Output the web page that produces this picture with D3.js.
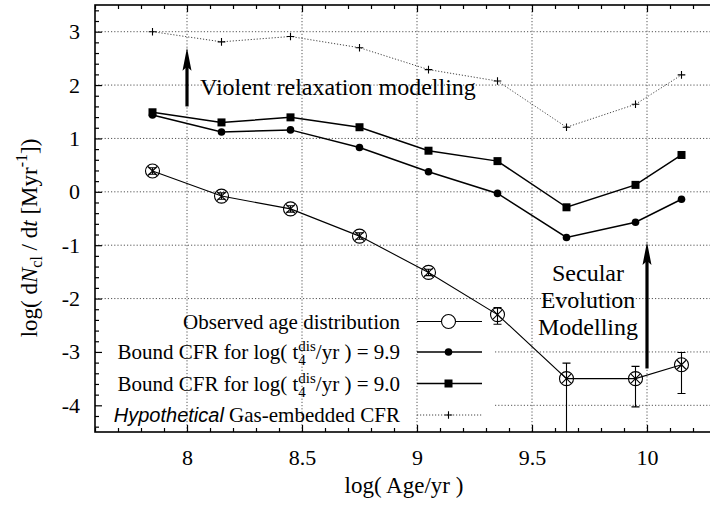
<!DOCTYPE html>
<html>
<head>
<meta charset="utf-8">
<script src="https://cdn.jsdelivr.net/npm/d3@7"></script>
<style>
  html, body { margin: 0; padding: 0; background: #fff; }
  svg { display: block; }
  text { font-family: "Liberation Serif", "Times New Roman", serif; fill: #000; }
</style>
</head>
<body>
<svg id="chart" width="710" height="508"></svg>
<script>
// ---- data ----
const ages = [7.85, 8.15, 8.45, 8.75, 9.05, 9.35, 9.65, 9.95, 10.15];
const observed = [0.39, -0.08, -0.32, -0.83, -1.51, -2.30, -3.50, -3.50, -3.24];
const observedErrHigh = [0.45, -0.02, -0.26, -0.77, -1.45, -2.17, -3.21, -3.27, -3.01];
const observedErrLow = [0.33, -0.14, -0.38, -0.89, -1.57, -2.48, -5.0, -4.03, -3.78];
const bound99 = [1.44, 1.12, 1.16, 0.83, 0.375, -0.03, -0.855, -0.57, -0.14];
const bound90 = [1.49, 1.30, 1.395, 1.21, 0.77, 0.575, -0.29, 0.13, 0.69];
const gasEmbedded = [3.0, 2.81, 2.91, 2.70, 2.29, 2.075, 1.21, 1.64, 2.19];
const xTicks = [8, 8.5, 9, 9.5, 10];
const yTicks = [-4, -3, -2, -1, 0, 1, 2, 3];

const svg = d3.select("#chart");
const L = 95, T = 5, B = 432, R = 739;
const x = d3.scaleLinear().domain([7.6, 10.4]).range([L, R]);
const y = d3.scaleLinear().domain([-4.5, 3.5]).range([B, T]);

const defs = svg.append("defs");
defs.append("clipPath").attr("id", "plotclip")
  .append("rect").attr("x", L).attr("y", T).attr("width", R - L).attr("height", B - T);

const gridStyle = g => g.attr("stroke", "#555").attr("stroke-width", 1).attr("stroke-dasharray", "1.2,2");

// horizontal grid
svg.append("g").selectAll("line").data(yTicks).join("line")
  .attr("x1", L).attr("x2", R).attr("y1", d => y(d)).attr("y2", d => y(d))
  .call(gridStyle);

// legend background (opaque key)
const keyBox = {x0: 96, x1: 493, y0: 306, y1: 431};
svg.append("rect").attr("x", keyBox.x0).attr("y", keyBox.y0)
  .attr("width", keyBox.x1 - keyBox.x0).attr("height", keyBox.y1 - keyBox.y0)
  .attr("fill", "#fff");

// vertical grid
svg.append("g").selectAll("line").data(xTicks).join("line")
  .attr("x1", d => x(d)).attr("x2", d => x(d)).attr("y1", T).attr("y2", B)
  .call(gridStyle);

// axes with inward ticks
const minorX = d3.range(76, 105).map(v => v / 10).filter(v => !xTicks.some(t => Math.abs(t - v) < 1e-6));
const minorY = d3.range(-22, 18).map(v => v / 5).filter(v => !yTicks.some(t => Math.abs(t - v) < 1e-6) && v >= -4.5 && v <= 3.5);

const axStyle = g => { g.select(".domain").remove(); g.selectAll("line").attr("stroke", "#000").attr("stroke-width", 1.2); };

const bx = svg.append("g").attr("transform", `translate(0,${B})`)
  .call(d3.axisBottom(x).tickValues(xTicks).tickSize(-7).tickPadding(0).tickFormat(d3.format("")))
  .call(axStyle);
bx.selectAll("text").attr("y", 33).attr("dy", null).attr("font-size", 22)
  .attr("font-family", "Liberation Serif, Times New Roman, serif");
svg.append("g").attr("transform", `translate(0,${B})`)
  .call(d3.axisBottom(x).tickValues(minorX).tickSize(-4).tickFormat(""))
  .call(axStyle);
svg.append("g").attr("transform", `translate(0,${T})`)
  .call(d3.axisTop(x).tickValues(xTicks).tickSize(-7).tickFormat(""))
  .call(axStyle);
svg.append("g").attr("transform", `translate(0,${T})`)
  .call(d3.axisTop(x).tickValues(minorX).tickSize(-4).tickFormat(""))
  .call(axStyle);

const ly = svg.append("g").attr("transform", `translate(${L},0)`)
  .call(d3.axisLeft(y).tickValues(yTicks).tickSize(-7).tickPadding(15).tickFormat(d3.format("")))
  .call(axStyle);
ly.selectAll("text").attr("font-size", 22).attr("dy", "0.32em")
  .attr("font-family", "Liberation Serif, Times New Roman, serif")
  .text(d => d < 0 ? "-" + Math.abs(d) : d);
svg.append("g").attr("transform", `translate(${L},0)`)
  .call(d3.axisLeft(y).tickValues(minorY).tickSize(-4).tickFormat(""))
  .call(axStyle);
svg.append("g").attr("transform", `translate(${R},0)`)
  .call(d3.axisRight(y).tickValues(yTicks).tickSize(-7).tickFormat(""))
  .call(axStyle);

// frame
svg.append("rect").attr("x", L).attr("y", T).attr("width", R - L).attr("height", B - T)
  .attr("fill", "none").attr("stroke", "#000").attr("stroke-width", 1.6);

// ---- data ----
const plot = svg.append("g").attr("clip-path", "url(#plotclip)");
const line = d3.line().x((d, i) => x(ages[i])).y(d => y(d));

// gas-embedded (dotted)
plot.append("path").datum(gasEmbedded).attr("d", line)
  .attr("fill", "none").attr("stroke", "#444").attr("stroke-width", 1).attr("stroke-dasharray", "1.2,1.8");
const plus = (g, cx, cy, s) => {
  g.append("path").attr("d", `M${cx - s},${cy}H${cx + s}M${cx},${cy - s}V${cy + s}`)
    .attr("stroke", "#000").attr("stroke-width", 1.1);
};
gasEmbedded.forEach((v, i) => plus(plot, x(ages[i]), y(v), 3.8));

// bound 9.0 squares
plot.append("path").datum(bound90).attr("d", line)
  .attr("fill", "none").attr("stroke", "#000").attr("stroke-width", 1.5);
plot.selectAll(".sq").data(bound90).join("rect")
  .attr("x", (d, i) => x(ages[i]) - 4).attr("y", d => y(d) - 4)
  .attr("width", 8).attr("height", 8).attr("fill", "#000");

// bound 9.9 circles
plot.append("path").datum(bound99).attr("d", line)
  .attr("fill", "none").attr("stroke", "#000").attr("stroke-width", 1.5);
plot.selectAll(".dot").data(bound99).join("circle")
  .attr("cx", (d, i) => x(ages[i])).attr("cy", d => y(d)).attr("r", 3.8).attr("fill", "#000");

// observed
plot.append("path").datum(observed).attr("d", line)
  .attr("fill", "none").attr("stroke", "#000").attr("stroke-width", 1.1);
observed.forEach((v, i) => {
  const cx = x(ages[i]), cy = y(v), hi = y(observedErrHigh[i]), lo = y(observedErrLow[i]);
  plot.append("path").attr("d", `M${cx},${hi}V${lo}M${cx - 4},${hi}H${cx + 4}M${cx - 4},${lo}H${cx + 4}`)
    .attr("stroke", "#000").attr("stroke-width", 1.1).attr("fill", "none");
  plot.append("circle").attr("cx", cx).attr("cy", cy).attr("r", 7)
    .attr("fill", "none").attr("stroke", "#000").attr("stroke-width", 1.1);
  plot.append("path").attr("d", `M${cx - 4.5},${cy - 4.5}L${cx + 4.5},${cy + 4.5}M${cx - 4.5},${cy + 4.5}L${cx + 4.5},${cy - 4.5}`)
    .attr("stroke", "#000").attr("stroke-width", 1.1);
});

// ---- annotations ----
const arrow = (xv, yTail, yTip) => {
  const ax = x(xv), t0 = y(yTail), t1 = y(yTip);
  svg.append("line").attr("x1", ax).attr("x2", ax).attr("y1", t0).attr("y2", t1 + 18)
    .attr("stroke", "#000").attr("stroke-width", 3.2);
  svg.append("path").attr("d", `M${ax},${t1}L${ax - 4.5},${t1 + 23}L${ax},${t1 + 19}L${ax + 4.5},${t1 + 23}Z`)
    .attr("fill", "#000");
};
arrow(8.0, 1.6, 2.7);
arrow(10.0, -3.31, -0.94);

svg.append("text").attr("x", 200).attr("y", 95).attr("font-size", 24).text("Violent relaxation modelling");
const sec = svg.append("text").attr("font-size", 24).attr("text-anchor", "middle");
["Secular", "Evolution", "Modelling"].forEach((s, i) =>
  sec.append("tspan").attr("x", 588).attr("y", 281 + i * 27).text(s));

// ---- legend ----
const rows = [321.5, 352, 383.5, 415];
const textX = 400, s0 = 417, s1 = 482, mx = 448.5;
const lg = svg.append("g");
const t1 = lg.append("text").attr("x", textX).attr("y", rows[0] + 7).attr("font-size", 21).attr("text-anchor", "end")
  .text("Observed age distribution");
const boundLabel = (row, val) => {
  const t = lg.append("text").attr("x", textX).attr("y", row + 7).attr("font-size", 21).attr("text-anchor", "end");
  t.append("tspan").text("Bound CFR for log( t");
  t.append("tspan").attr("font-size", 15).attr("dy", 6).text("4");
  t.append("tspan").attr("font-size", 15).attr("dx", -7.5).attr("dy", -14).text("dis");
  t.append("tspan").attr("dy", 8).text("/yr ) = " + val);
};
boundLabel(rows[1], "9.9");
boundLabel(rows[2], "9.0");
const t4 = lg.append("text").attr("x", textX).attr("y", rows[3] + 7).attr("font-size", 21).attr("text-anchor", "end");
t4.append("tspan").attr("font-family", "Liberation Sans, Arial, sans-serif").attr("font-style", "italic").attr("font-size", 20).text("Hypothetical");
t4.append("tspan").text(" Gas-embedded CFR");

lg.append("line").attr("x1", s0).attr("x2", s1).attr("y1", rows[0]).attr("y2", rows[0]).attr("stroke", "#000").attr("stroke-width", 1.1);
lg.append("circle").attr("cx", mx).attr("cy", rows[0]).attr("r", 7).attr("fill", "#fff").attr("stroke", "#000").attr("stroke-width", 1.1);
lg.append("line").attr("x1", s0).attr("x2", s1).attr("y1", rows[1]).attr("y2", rows[1]).attr("stroke", "#000").attr("stroke-width", 1.5);
lg.append("circle").attr("cx", mx).attr("cy", rows[1]).attr("r", 3.8).attr("fill", "#000");
lg.append("line").attr("x1", s0).attr("x2", s1).attr("y1", rows[2]).attr("y2", rows[2]).attr("stroke", "#000").attr("stroke-width", 1.5);
lg.append("rect").attr("x", mx - 4).attr("y", rows[2] - 4).attr("width", 8).attr("height", 8).attr("fill", "#000");
lg.append("line").attr("x1", s0).attr("x2", s1).attr("y1", rows[3]).attr("y2", rows[3]).attr("stroke", "#444").attr("stroke-width", 1).attr("stroke-dasharray", "1.2,1.8");
plus(lg, mx, rows[3], 3.8);

// ---- axis titles ----
svg.append("text").attr("x", 404).attr("y", 493).attr("font-size", 23).attr("text-anchor", "middle").text("log( Age/yr )");
const yt = svg.append("text").attr("transform", "translate(37,238) rotate(-90)").attr("font-size", 23).attr("text-anchor", "middle");
yt.append("tspan").text("log( d");
yt.append("tspan").attr("font-style", "italic").text("N");
yt.append("tspan").attr("font-size", 16).attr("dy", 5).text("cl");
yt.append("tspan").attr("dy", -5).text(" / d");
yt.append("tspan").attr("font-style", "italic").text("t");
yt.append("tspan").text(" [Myr");
yt.append("tspan").attr("font-size", 16).attr("dy", -10).text("-1");
yt.append("tspan").attr("dy", 10).text("])");
</script>
</body>
</html>
